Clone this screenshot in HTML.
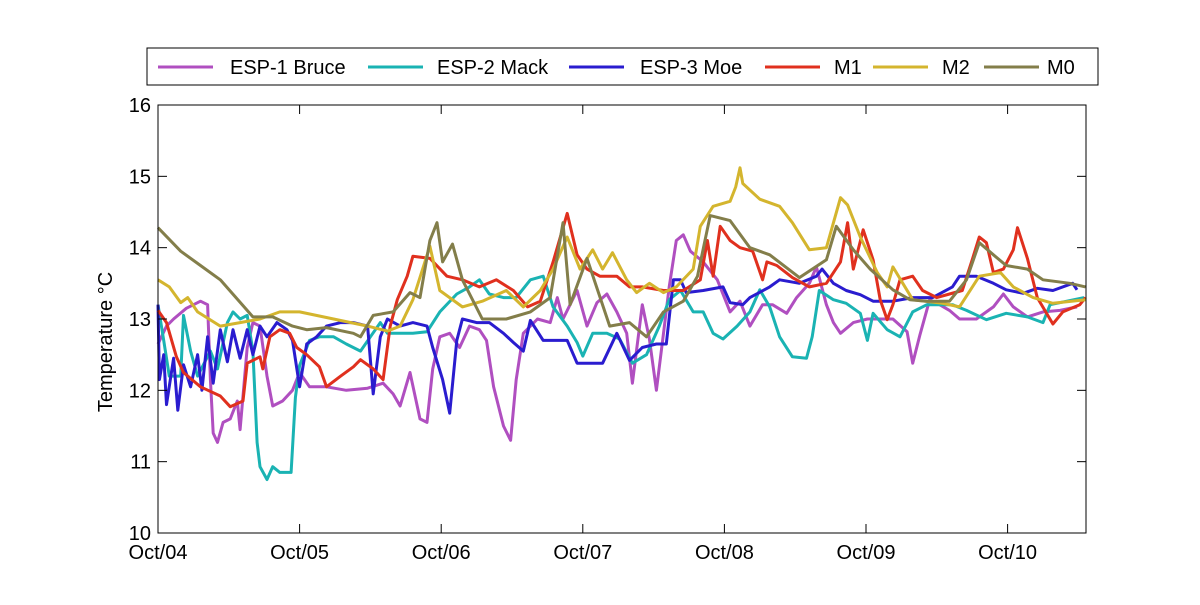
<!DOCTYPE html>
<html><head><meta charset="utf-8"><style>
body{margin:0;background:#fff;}
svg text{font-family:"Liberation Sans",sans-serif;}
</style></head><body>
<svg id="chart" width="1200" height="600" viewBox="0 0 1200 600" xmlns="http://www.w3.org/2000/svg">
<rect x="0" y="0" width="1200" height="600" fill="#fff"/>
<g id="plot"></g>
<g id="axes"></g>
<text transform="translate(112,342) rotate(-90)" text-anchor="middle" font-size="20">Temperature °C</text>
<g id="legend"></g>
</svg>
<script>
const xTickLabels = ["Oct/04","Oct/05","Oct/06","Oct/07","Oct/08","Oct/09","Oct/10"];
const yTicks = [10,11,12,13,14,15,16];
const seriesNames = ["ESP-1 Bruce","ESP-2 Mack","ESP-3 Moe","M1","M2","M0"];
const seriesColors = ["#b04fc0","#1ab3b3","#2a1ccf","#e0301e","#d4b52e","#837e4a"];

const esp1Time = [0,.06,.11,.20,.30,.35,.37,.39,.42,.46,.51,.56,.58,.63,.67,.72,.77,.81,.88,.95,1.0,1.07,1.19,1.33,1.48,1.59,1.66,1.71,1.78,1.85,1.90,1.94,1.99,2.06,2.13,2.20,2.27,2.32,2.37,2.44,2.49,2.53,2.58,2.68,2.77,2.82,2.86,2.96,3.03,3.10,3.17,3.24,3.31,3.35,3.42,3.47,3.52,3.57,3.61,3.66,3.71,3.76,3.85,3.95,4.04,4.11,4.18,4.27,4.34,4.44,4.51,4.60,4.65,4.72,4.77,4.82,4.91,5.01,5.10,5.19,5.29,5.33,5.38,5.45,5.52,5.59,5.66,5.78,5.90,5.97,6.04,6.14,6.25,6.37,6.49];
const esp1Temp = [12.65,12.9,13.0,13.15,13.25,13.2,12.15,11.4,11.27,11.55,11.6,11.85,11.45,12.6,12.95,12.9,12.2,11.78,11.85,12.0,12.25,12.05,12.05,12.0,12.03,12.1,11.95,11.78,12.25,11.6,11.55,12.3,12.75,12.8,12.6,12.9,12.85,12.7,12.05,11.5,11.3,12.15,12.8,13.0,12.95,13.3,13.0,13.4,12.9,13.23,13.35,13.1,12.8,12.1,13.2,12.72,12.0,12.8,13.45,14.1,14.18,13.95,13.8,13.55,13.1,13.25,12.9,13.2,13.2,13.08,13.3,13.5,13.73,13.2,12.95,12.8,12.95,13.0,13.0,13.0,12.82,12.38,12.77,13.27,13.2,13.12,13.0,13.0,13.17,13.35,13.17,13.03,13.1,13.12,13.17];

const esp2Time = [0,.04,.08,.16,.18,.23,.28,.37,.42,.49,.53,.58,.63,.67,.70,.72,.77,.81,.86,.94,.97,1.0,1.07,1.14,1.24,1.33,1.43,1.50,1.57,1.62,1.71,1.80,1.90,1.99,2.11,2.20,2.27,2.34,2.44,2.53,2.63,2.72,2.79,2.89,2.96,3.0,3.07,3.17,3.26,3.35,3.45,3.54,3.61,3.69,3.78,3.85,3.92,3.99,4.09,4.18,4.25,4.32,4.39,4.48,4.58,4.62,4.67,4.77,4.86,4.96,5.01,5.05,5.15,5.24,5.33,5.43,5.61,5.71,5.85,5.99,6.14,6.25,6.30,6.54];
const esp2Temp = [13.2,12.7,12.2,12.2,13.05,12.55,12.2,12.55,12.3,12.95,13.1,13.0,13.05,12.55,11.27,10.93,10.75,10.93,10.85,10.85,11.9,12.35,12.7,12.75,12.75,12.65,12.55,12.75,12.95,12.8,12.8,12.8,12.82,13.1,13.35,13.45,13.55,13.35,13.3,13.3,13.55,13.6,13.17,12.9,12.67,12.48,12.8,12.8,12.72,12.38,12.5,12.9,13.27,13.4,13.1,13.1,12.8,12.72,12.9,13.1,13.41,13.17,12.75,12.47,12.45,12.75,13.4,13.27,13.22,13.08,12.7,13.08,12.85,12.75,13.1,13.2,13.2,13.12,12.99,13.08,13.03,12.95,13.2,13.3];

const esp3Time = [0,.01,.04,.06,.11,.14,.18,.23,.28,.31,.35,.39,.44,.49,.53,.58,.63,.67,.72,.77,.84,.91,.95,1.0,1.05,1.12,1.19,1.29,1.38,1.48,1.52,1.57,1.62,1.71,1.80,1.90,1.94,2.01,2.06,2.11,2.15,2.25,2.34,2.44,2.51,2.58,2.63,2.72,2.79,2.89,2.96,3.05,3.14,3.24,3.33,3.42,3.52,3.59,3.64,3.69,3.73,3.85,3.99,4.04,4.13,4.18,4.32,4.39,4.53,4.65,4.69,4.77,4.86,4.96,5.05,5.19,5.33,5.47,5.61,5.66,5.78,5.90,5.99,6.11,6.21,6.32,6.46,6.49];
const esp3Temp = [13.2,12.15,12.5,11.8,12.45,11.72,12.36,12.05,12.5,12.0,12.75,12.1,12.85,12.4,12.85,12.45,12.85,12.5,12.9,12.75,12.95,12.85,12.7,12.05,12.65,12.75,12.9,12.95,12.95,12.9,11.95,12.75,13.0,12.9,12.95,12.9,12.6,12.15,11.68,12.7,13.0,12.95,12.95,12.8,12.67,12.55,12.98,12.7,12.7,12.7,12.38,12.38,12.38,12.8,12.42,12.6,12.65,12.65,13.55,13.55,13.37,13.4,13.45,13.23,13.2,13.3,13.45,13.55,13.5,13.6,13.7,13.5,13.4,13.34,13.25,13.25,13.3,13.3,13.45,13.6,13.6,13.5,13.41,13.36,13.43,13.4,13.5,13.41];

const m1Time = [0,.06,.13,.18,.30,.44,.51,.60,.63,.72,.74,.79,.86,.93,.98,1.05,1.14,1.19,1.29,1.38,1.43,1.52,1.59,1.64,1.69,1.76,1.80,1.92,2.04,2.15,2.27,2.39,2.51,2.61,2.70,2.79,2.89,2.96,3.03,3.12,3.24,3.33,3.42,3.57,3.71,3.83,3.88,3.92,3.97,4.04,4.11,4.20,4.27,4.30,4.37,4.48,4.60,4.72,4.82,4.87,4.91,4.98,5.05,5.10,5.15,5.19,5.24,5.33,5.40,5.50,5.59,5.68,5.75,5.80,5.85,5.90,5.97,6.04,6.07,6.14,6.21,6.32,6.39,6.51,6.55];
const m1Temp = [13.12,12.95,12.47,12.25,12.05,11.92,11.77,11.85,12.38,12.47,12.3,12.75,12.85,12.8,12.6,12.5,12.33,12.05,12.2,12.33,12.43,12.3,12.15,12.9,13.27,13.6,13.88,13.85,13.6,13.55,13.45,13.55,13.4,13.17,13.25,13.8,14.48,13.9,13.7,13.6,13.6,13.45,13.45,13.4,13.4,13.55,14.1,13.6,14.3,14.1,14.0,13.95,13.55,13.8,13.75,13.58,13.45,13.5,13.8,14.35,13.7,14.25,13.83,13.27,12.99,13.2,13.55,13.6,13.4,13.3,13.35,13.4,13.83,14.15,14.07,13.65,13.7,13.97,14.28,13.85,13.3,12.93,13.1,13.2,13.3];

const m2Time = [0,.08,.16,.21,.28,.44,.58,.72,.86,1.0,1.24,1.48,1.62,1.71,1.80,1.92,1.99,2.15,2.29,2.46,2.58,2.70,2.79,2.89,2.98,3.07,3.14,3.21,3.31,3.38,3.47,3.57,3.66,3.78,3.83,3.92,4.04,4.08,4.11,4.13,4.25,4.39,4.48,4.60,4.72,4.82,4.87,4.96,5.08,5.15,5.19,5.26,5.33,5.54,5.66,5.80,5.95,6.04,6.18,6.32,6.55];
const m2Temp = [13.55,13.45,13.23,13.3,13.1,12.9,12.95,13.0,13.1,13.1,13.0,12.9,12.83,12.9,13.27,14.02,13.4,13.17,13.25,13.4,13.17,13.4,13.7,14.15,13.7,13.97,13.7,13.93,13.55,13.37,13.5,13.37,13.45,13.7,14.3,14.58,14.65,14.85,15.12,14.9,14.68,14.58,14.35,13.97,14.0,14.7,14.6,14.15,13.65,13.45,13.73,13.5,13.27,13.22,13.17,13.6,13.65,13.45,13.3,13.22,13.27];

const m0Time = [0,.16,.30,.44,.67,.81,.95,1.05,1.19,1.38,1.43,1.52,1.66,1.78,1.85,1.92,1.97,2.01,2.08,2.15,2.29,2.46,2.63,2.77,2.86,2.91,3.03,3.19,3.33,3.45,3.57,3.71,3.81,3.90,4.04,4.18,4.32,4.53,4.72,4.79,4.91,5.03,5.19,5.31,5.43,5.59,5.71,5.80,5.90,5.99,6.14,6.25,6.44,6.55];
const m0Temp = [14.28,13.95,13.75,13.55,13.03,13.03,12.9,12.85,12.88,12.8,12.75,13.05,13.1,13.37,13.3,14.1,14.35,13.8,14.05,13.55,13.0,13.0,13.1,13.3,14.35,13.2,13.85,12.9,12.95,12.75,13.1,13.25,13.6,14.45,14.38,14.0,13.9,13.58,13.83,14.3,13.97,13.7,13.41,13.27,13.25,13.25,13.55,14.07,13.9,13.75,13.7,13.55,13.5,13.45];

const seriesTimes = [esp1Time,esp2Time,esp3Time,m1Time,m2Time,m0Time];
const seriesTemps = [esp1Temp,esp2Temp,esp3Temp,m1Temp,m2Temp,m0Temp];

const NS = "http://www.w3.org/2000/svg";
const L = 158, R = 1086, T = 105, B = 533;
const xMax = (R - L) / 141.6;
function xs(t){ return L + (t / xMax) * (R - L); }
function ys(v){ return B - (v - 10) / 6 * (B - T); }
function mk(tag, attrs, parent){ const e = document.createElementNS(NS, tag); for (const k in attrs) e.setAttribute(k, attrs[k]); parent.appendChild(e); return e; }

const plot = document.getElementById('plot');
const axes = document.getElementById('axes');
const legend = document.getElementById('legend');

for (let s = 0; s < seriesNames.length; s++) {
  const ts = seriesTimes[s], vs = seriesTemps[s];
  const n = Math.min(ts.length, vs.length);
  let d = "";
  for (let i = 0; i < n; i++) d += (i ? "L" : "M") + xs(ts[i]).toFixed(1) + "," + ys(vs[i]).toFixed(1);
  const p = mk('path', {d: d, fill: 'none', stroke: seriesColors[s], 'stroke-width': 3, 'stroke-linejoin': 'round'}, plot);
  
  
}

const frame = mk('rect', {x: L, y: T, width: R - L, height: B - T, fill: 'none', stroke: '#000', 'stroke-width': 1}, axes);



yTicks.forEach(v => {
  const y = ys(v);
  mk('line', {x1: L, x2: L + 9, y1: y, y2: y, stroke: '#000'}, axes);
  mk('line', {x1: R - 9, x2: R, y1: y, y2: y, stroke: '#000'}, axes);
  const t = mk('text', {x: L - 7, y: y + 7, 'text-anchor': 'end', 'font-size': 20}, axes);
  t.textContent = v;
  
  
});

xTickLabels.forEach((lab, i) => {
  const x = xs(i);
  mk('line', {x1: x, x2: x, y1: B, y2: B - 9, stroke: '#000'}, axes);
  mk('line', {x1: x, x2: x, y1: T, y2: T + 9, stroke: '#000'}, axes);
  const t = mk('text', {x: x, y: 559, 'text-anchor': 'middle', 'font-size': 20}, axes);
  t.textContent = lab;
  
  
});

const lb = mk('rect', {x: 147, y: 48, width: 951, height: 37, fill: '#fff', stroke: '#000'}, legend);


const legendLineX = [158, 368, 569, 765, 873, 984];
const legendTextX = [230, 437, 640, 834, 942, 1047];
seriesNames.forEach((nm, i) => {
  const g = mk('g', {}, legend);
  
  
  mk('line', {x1: legendLineX[i], x2: legendLineX[i] + 55, y1: 67, y2: 67, stroke: seriesColors[i], 'stroke-width': 3}, g);
  const t = mk('text', {x: legendTextX[i], y: 74, 'font-size': 20}, g);
  t.textContent = nm;
});
</script>
</body></html>
